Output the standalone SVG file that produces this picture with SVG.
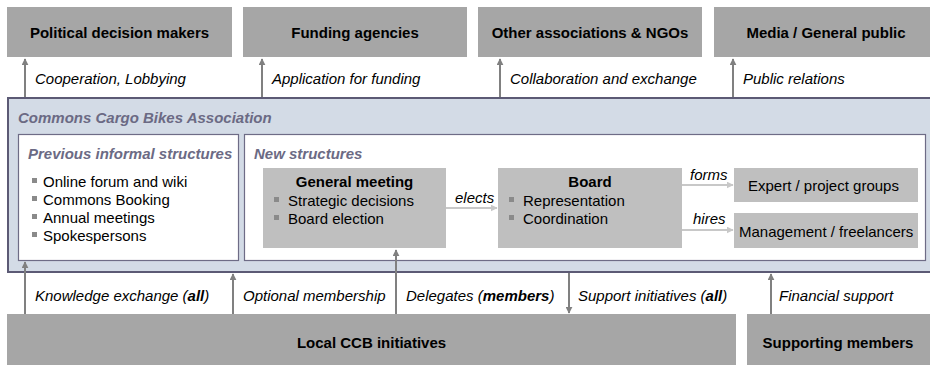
<svg xmlns="http://www.w3.org/2000/svg" width="930" height="365" viewBox="0 0 930 365">
  <style>
    text { font-family: "Liberation Sans", Arial, sans-serif; font-size: 15px; fill: #000; }
    .title { font-weight: bold; text-anchor: middle; }
    .lbl { font-style: italic; }
    .head { font-weight: bold; font-style: italic; fill: #6b6a84; }
    .ext { fill: #a6a6a6; }
    .unit { fill: #bfbfbf; }
    .inner { fill: #fff; stroke: #6e6c86; stroke-width: 1.2; }
    .bullet { fill: #8a8a8a; }
    .link { stroke: #808080; stroke-width: 2; fill: none; }
    .flow { stroke: #c8c8c8; stroke-width: 2; fill: none; }
  </style>
  <defs>
    <marker id="ah" viewBox="0 0 10 10" refX="9" refY="5" markerWidth="3.5" markerHeight="3.5" orient="auto" markerUnits="strokeWidth">
      <path d="M0,0 L10,5 L0,10 z" fill="#808080"/>
    </marker>
    <marker id="ahl" viewBox="0 0 10 10" refX="9" refY="5" markerWidth="3.5" markerHeight="3.5" orient="auto" markerUnits="strokeWidth">
      <path d="M0,0 L10,5 L0,10 z" fill="#c8c8c8"/>
    </marker>
  </defs>

  <rect width="930" height="365" fill="#fff"/>

  <!-- External stakeholders (top row) -->
  <g id="political">
    <rect class="ext" x="7" y="7" width="225" height="50"/>
    <text class="title" x="119.5" y="38">Political decision makers</text>
  </g>
  <g id="funding">
    <rect class="ext" x="243" y="7" width="224" height="50"/>
    <text class="title" x="355" y="38">Funding agencies</text>
  </g>
  <g id="ngos">
    <rect class="ext" x="478" y="7" width="224" height="50"/>
    <text class="title" x="590" y="38">Other associations &amp; NGOs</text>
  </g>
  <g id="media">
    <rect class="ext" x="714" y="7" width="220" height="50"/>
    <text class="title" x="826" y="38">Media / General public</text>
  </g>

  <!-- Association frame -->
  <g id="association">
    <rect x="8" y="98" width="930" height="174" fill="#d3dbe6" stroke="#5c5a75" stroke-width="2"/>
    <text class="head" x="18" y="123">Commons Cargo Bikes Association</text>
  </g>

  <g id="previous">
    <rect class="inner" x="18.5" y="134.5" width="220" height="126"/>
    <text class="head" x="28" y="159">Previous informal structures</text>
    <rect class="bullet" x="32" y="178" width="5" height="5"/>
    <text x="43" y="187">Online forum and wiki</text>
    <rect class="bullet" x="32" y="196" width="5" height="5"/>
    <text x="43" y="205">Commons Booking</text>
    <rect class="bullet" x="32" y="214" width="5" height="5"/>
    <text x="43" y="223">Annual meetings</text>
    <rect class="bullet" x="32" y="232" width="5" height="5"/>
    <text x="43" y="241">Spokespersons</text>
  </g>

  <g id="new">
    <rect class="inner" x="244.5" y="134.5" width="681" height="126"/>
    <text class="head" x="254" y="159">New structures</text>
  </g>

  <g id="general-meeting">
    <rect class="unit" x="263" y="168" width="183" height="80"/>
    <text class="title" x="354.5" y="187">General meeting</text>
    <rect class="bullet" x="274" y="197" width="5" height="5"/>
    <text x="288" y="206">Strategic decisions</text>
    <rect class="bullet" x="274" y="215" width="5" height="5"/>
    <text x="288" y="224">Board election</text>
  </g>

  <g id="board">
    <rect class="unit" x="498" y="168" width="184" height="80"/>
    <text class="title" x="590" y="187">Board</text>
    <rect class="bullet" x="509" y="197" width="5" height="5"/>
    <text x="523" y="206">Representation</text>
    <rect class="bullet" x="509" y="215" width="5" height="5"/>
    <text x="523" y="224">Coordination</text>
  </g>

  <g id="expert-groups">
    <rect class="unit" x="734" y="168" width="184" height="34"/>
    <text x="748" y="191">Expert / project groups</text>
  </g>

  <g id="management">
    <rect class="unit" x="734" y="213" width="184" height="35"/>
    <text x="739" y="237">Management / freelancers</text>
  </g>

  <!-- Bottom row -->
  <g id="local-initiatives">
    <rect class="ext" x="7" y="314" width="729" height="55"/>
    <text class="title" x="371.5" y="348">Local CCB initiatives</text>
  </g>
  <g id="supporting-members">
    <rect class="ext" x="747" y="314" width="190" height="55"/>
    <text class="title" x="838" y="348">Supporting members</text>
  </g>

  <!-- Connectors -->
  <g id="connectors">
    <line class="link" x1="25" y1="97" x2="25" y2="59" marker-end="url(#ah)"/>
    <line class="link" x1="262" y1="97" x2="262" y2="59" marker-end="url(#ah)"/>
    <line class="link" x1="500" y1="97" x2="500" y2="59" marker-end="url(#ah)"/>
    <line class="link" x1="733" y1="97" x2="733" y2="59" marker-end="url(#ah)"/>

    <line class="flow" x1="446" y1="208" x2="497" y2="208" marker-end="url(#ahl)"/>
    <line class="flow" x1="682" y1="185" x2="733" y2="185" marker-end="url(#ahl)"/>
    <line class="flow" x1="682" y1="230" x2="733" y2="230" marker-end="url(#ahl)"/>

    <line class="link" x1="25" y1="314" x2="25" y2="262" marker-end="url(#ah)"/>
    <line class="link" x1="233" y1="314" x2="233" y2="274" marker-end="url(#ah)"/>
    <line class="link" x1="396" y1="314" x2="396" y2="250" marker-end="url(#ah)"/>
    <line class="link" x1="569" y1="273" x2="569" y2="313" marker-end="url(#ah)"/>
    <line class="link" x1="771" y1="314" x2="771" y2="274" marker-end="url(#ah)"/>

    <text class="lbl" x="35" y="84">Cooperation, Lobbying</text>
    <text class="lbl" x="272" y="84">Application for funding</text>
    <text class="lbl" x="510" y="84">Collaboration and exchange</text>
    <text class="lbl" x="743" y="84">Public relations</text>

    <text class="lbl" x="455" y="203">elects</text>
    <text class="lbl" x="690" y="180">forms</text>
    <text class="lbl" x="693" y="224">hires</text>

    <text class="lbl" x="35" y="301">Knowledge exchange (<tspan font-weight="bold">all</tspan>)</text>
    <text class="lbl" x="243" y="301">Optional membership</text>
    <text class="lbl" x="406" y="301">Delegates (<tspan font-weight="bold">members</tspan>)</text>
    <text class="lbl" x="578" y="301">Support initiatives (<tspan font-weight="bold">all</tspan>)</text>
    <text class="lbl" x="779" y="301">Financial support</text>
  </g>
</svg>
